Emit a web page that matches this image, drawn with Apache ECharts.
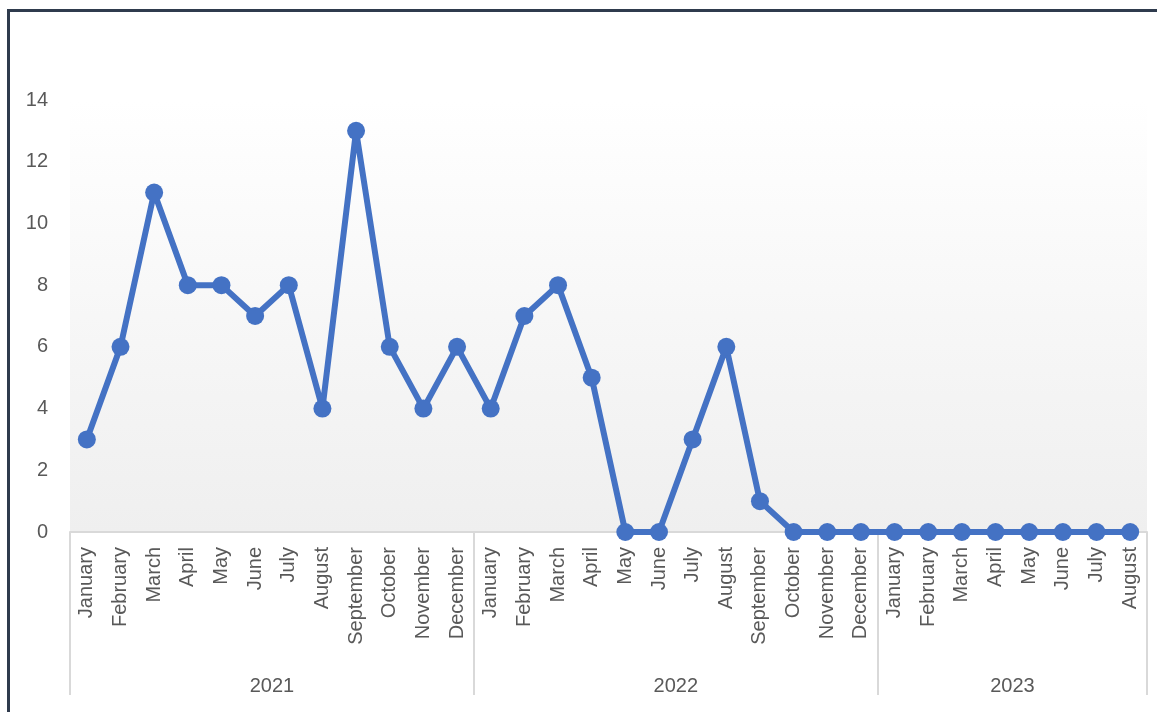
<!DOCTYPE html>
<html>
<head>
<meta charset="utf-8">
<script src="https://cdn.jsdelivr.net/npm/echarts@6/dist/echarts.min.js"></script>
<style>
  html, body { margin: 0; padding: 0; background: #ffffff; }
  #chart { position: absolute; left: 0; top: 0; width: 1157px; height: 712px; }
  #frame { position: absolute; left: 7px; top: 9px; width: 1160px; height: 720px;
           border-left: 3px solid #2f3b4d; border-top: 3px solid #2f3b4d; pointer-events: none; }
</style>
</head>
<body>
<div id="chart"></div>
<div id="frame"></div>
<script>
const months = ['January','February','March','April','May','June','July','August','September','October','November','December',
                'January','February','March','April','May','June','July','August','September','October','November','December',
                'January','February','March','April','May','June','July','August'];
const values = [3,6,11,8,8,7,8,4,13,6,4,6,
                4,7,8,5,0,0,3,6,1,0,0,0,
                0,0,0,0,0,0,0,0];
const years = ['2021','2022','2023'];
const groupSizes = [12,12,8];
const yTicks = [0,2,4,6,8,10,12,14];

// group boundaries and centres (in category units) derived from group sizes
const boundaries = [0];
const centres = [];
const yearAt = {};
groupSizes.forEach((n, i) => {
  const start = boundaries[boundaries.length - 1];
  boundaries.push(start + n);
  centres.push(start + n / 2);
  yearAt[start + n / 2] = years[i];
});
const total = boundaries[boundaries.length - 1];

const chart = echarts.init(document.getElementById('chart'), null, { renderer: 'canvas' });
const font = 'Liberation Sans, Arial, sans-serif';
chart.setOption({
  animation: false,
  backgroundColor: '#ffffff',
  grid: {
    left: 70, right: 10, top: 100, bottom: 180,
    show: true, borderWidth: 0,
    backgroundColor: new echarts.graphic.LinearGradient(0, 0, 0, 1, [
      { offset: 0, color: '#ffffff' },
      { offset: 1, color: '#efefef' }
    ])
  },
  xAxis: [{
    type: 'category',
    data: months,
    boundaryGap: true,
    axisLine: { show: true, lineStyle: { color: '#d9d9d9', width: 2 } },
    axisTick: { show: false },
    axisLabel: { rotate: 90, margin: 15, fontSize: 20, color: '#595959', fontFamily: font, interval: 0 },
    splitLine: { show: false }
  }, {
    type: 'value',
    min: 0, max: total,
    position: 'bottom',
    axisLine: { show: false },
    splitLine: { show: false },
    axisTick: { show: true, customValues: boundaries, length: 163, inside: false, lineStyle: { color: '#d9d9d9', width: 2 } },
    axisLabel: { show: true, customValues: centres, margin: 144, fontSize: 20, color: '#595959', fontFamily: font,
                 formatter: v => yearAt[v] || '' }
  }],
  yAxis: {
    type: 'value',
    min: 0, max: 14, interval: 2,
    axisLine: { show: false },
    axisTick: { show: false },
    splitLine: { show: false },
    axisLabel: { margin: 22, fontSize: 20, color: '#595959', fontFamily: font,
                 formatter: v => yTicks.includes(v) ? String(v) : '' }
  },
  series: [{
    type: 'line',
    data: values,
    xAxisIndex: 0,
    symbol: 'circle',
    symbolSize: 18,
    lineStyle: { color: '#4472c4', width: 6 },
    itemStyle: { color: '#4472c4' }
  }]
});
</script>
</body>
</html>
